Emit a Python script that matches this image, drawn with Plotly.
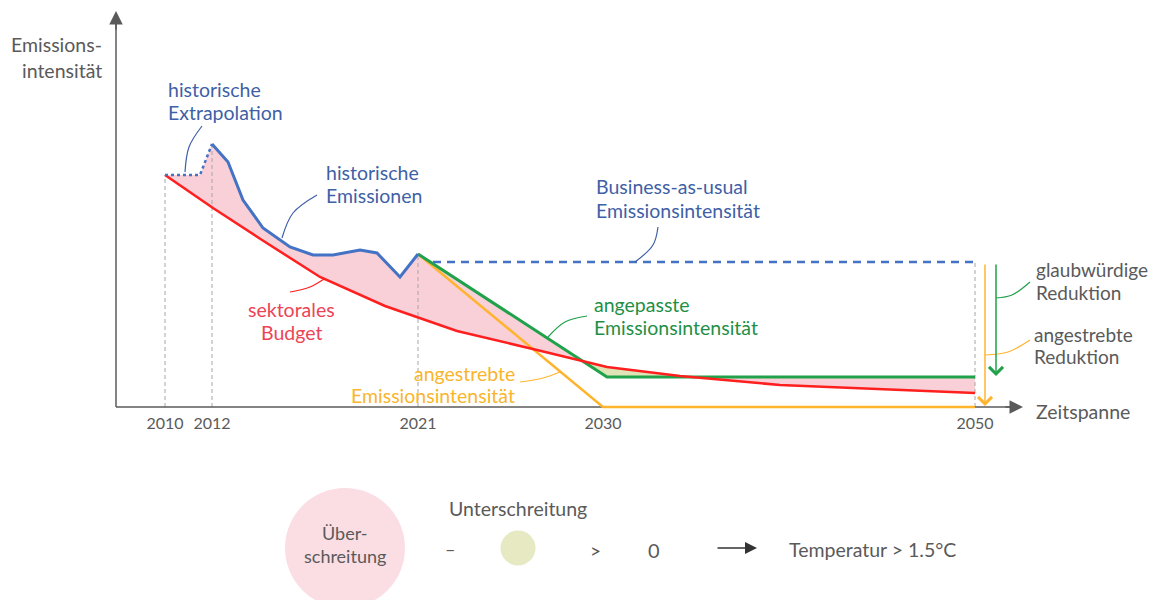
import numpy as np
import plotly.graph_objects as go

# ---------------- data (schematic units: x = time position, y = intensity) ----------------
tick_pos = [165, 212, 418, 603, 975]
tick_years = ["2010", "2012", "2021", "2030", "2050"]

extrap_x = [165, 200, 212]
extrap_y = [232, 232, 263]
hist_x = [212, 228, 243, 263, 290, 313, 333, 360, 377, 400, 418]
hist_y = [263, 245, 207, 179, 160, 152, 152, 157, 154, 130, 153]
budget_x = [165, 213, 262, 320, 385, 457, 537, 607, 680, 780, 975]
budget_y = [232, 199, 167, 130, 101, 76, 57, 40, 31, 22, 14]
adjusted_x = [418, 607, 975]
adjusted_y = [153, 30, 30]
target_x = [418, 603, 975]
target_y = [153, 0, 0]
bau_x = [433, 975]
bau_y = [145, 145]

guide_x = [165, 212, 418, 975]
guide_top = [232, 263, 153, 145]

# ---------------- styles ----------------
FONT = "Lato"
GRAY = "#5a5a5a"
BLUE = "#4472C4"
BLUE_T = "#3F5FA6"
RED = "#FF1F1F"
RED_T = "#EC4455"
GREEN = "#1FA24A"
GREEN_T = "#1F8F46"
ORANGE = "#FFB42E"
ORANGE_T = "#F9B52C"
PINK = "#F9D0D7"
OLIVE = "#DFE4B6"

# page offset (browser body margin) handled through the axis ranges
OFF = 8
W, H = 1157 - 2 * OFF, 608 - 2 * OFF
BASE = 407  # pixel row of the time axis in the reference


def Y(py):
    return BASE - py


fig = go.Figure()

# ---------------- fills between upper path and budget ----------------
upper_x = extrap_x + hist_x[1:] + adjusted_x[1:]
upper_y = extrap_y + hist_y[1:] + adjusted_y[1:]
grid = np.union1d(np.linspace(165, 975, 1621), np.array(upper_x + budget_x, dtype=float))
u = np.interp(grid, upper_x, upper_y)
r = np.interp(grid, budget_x, budget_y)
over = np.maximum(u, r)
under = np.minimum(u, r)

for top, col in [(over, PINK), (under, OLIVE)]:
    fig.add_trace(go.Scatter(x=grid, y=r, mode="lines", line=dict(width=0, color=col),
                             hoverinfo="skip", showlegend=False))
    fig.add_trace(go.Scatter(x=grid, y=top, mode="lines", line=dict(width=0, color=col),
                             fill="tonexty", fillcolor=col, hoverinfo="skip", showlegend=False))

# ---------------- guide lines ----------------
gx, gy = [], []
for x, t in zip(guide_x, guide_top):
    gx += [x, x, None]
    gy += [0, t, None]
fig.add_trace(go.Scatter(x=gx, y=gy, mode="lines", line=dict(color="#a6a6a6", width=1, dash="4px,3px"),
                         hoverinfo="skip", showlegend=False))

# ---------------- axes lines ----------------
fig.add_trace(go.Scatter(x=[116, 1010], y=[0, 0], mode="lines", line=dict(color=GRAY, width=1.5),
                         hoverinfo="skip", showlegend=False))
fig.add_trace(go.Scatter(x=[116, 116], y=[0, 385], mode="lines", line=dict(color=GRAY, width=1.5),
                         hoverinfo="skip", showlegend=False))

# ---------------- series lines ----------------
fig.add_trace(go.Scatter(x=target_x, y=target_y, mode="lines", line=dict(color=ORANGE, width=2.5),
                         showlegend=False))
fig.add_trace(go.Scatter(x=adjusted_x, y=adjusted_y, mode="lines", line=dict(color=GREEN, width=3),
                         showlegend=False))
fig.add_trace(go.Scatter(x=budget_x, y=budget_y, mode="lines", line=dict(color=RED, width=2.5),
                         showlegend=False))
fig.add_trace(go.Scatter(x=extrap_x, y=extrap_y, mode="lines", line=dict(color=BLUE, width=2.5, dash="dot"),
                         showlegend=False))
fig.add_trace(go.Scatter(x=hist_x, y=hist_y, mode="lines", line=dict(color=BLUE, width=3),
                         showlegend=False))
fig.add_trace(go.Scatter(x=bau_x, y=bau_y, mode="lines", line=dict(color=BLUE, width=2.5, dash="8px,6px"),
                         showlegend=False))

# ---------------- callout leader lines ----------------
callouts = [
    ([202, 189, 185], [281, 260, 235], BLUE_T),
    ([317, 293, 282], [212, 194, 169], BLUE_T),
    ([658, 653, 635], [180, 162, 145], BLUE_T),
    ([290, 310, 324], [115, 120, 128], RED),
    ([587, 565, 548], [91, 85, 70], GREEN),
    ([520, 543, 560], [25, 29, 35], ORANGE),
    ([1030, 1012, 996], [125, 112, 109], GREEN),
    ([1030, 1008, 985], [67, 55, 52], ORANGE),
]
for cx, cy, col in callouts:
    fig.add_trace(go.Scatter(x=cx, y=cy, mode="lines", line=dict(color=col, width=1.2, shape="spline"),
                             hoverinfo="skip", showlegend=False))

# ---------------- legend glyphs ----------------
legend_x = [345, 518]
legend_y = [Y(548), Y(548)]
fig.add_trace(go.Scatter(x=legend_x, y=legend_y, mode="markers",
                         marker=dict(size=[120, 35], color=[PINK, "#DCE0A6"], line=dict(width=0)),
                         hoverinfo="skip", showlegend=False, cliponaxis=False))

annotations = []


def txt(x, py, s, color, size=19.5, xanchor="left"):
    annotations.append(dict(x=x, y=Y(py), xref="x", yref="y", text=s, showarrow=False,
                            font=dict(family=FONT, size=size, color=color),
                            xanchor=xanchor, yanchor="middle"))


def label(x, rows, lines, color, size=19.5, xanchor="left"):
    for py, s in zip(rows, lines):
        txt(x, py, s, color, size, xanchor)


label(104, [44, 70], ["Emissions-", "intensität"], GRAY, 19.5, "right")
label(166, [89, 112], ["historische", "Extrapolation"], BLUE_T)
label(324, [172, 195], ["historische", "Emissionen"], BLUE_T)
label(594, [186, 210], ["Business-as-usual", "Emissionsintensität"], BLUE_T)
label(291, [309, 332], ["sektorales", "Budget"], RED_T, 19.5, "center")
label(592, [304, 327], ["angepasste", "Emissionsintensität"], GREEN_T)
label(517, [373, 395], ["angestrebte", "Emissionsintensität"], ORANGE_T, 19.5, "right")
label(1034, [269, 292], ["glaubwürdige", "Reduktion"], GRAY, 19)
label(1032, [334, 356], ["angestrebte", "Reduktion"], GRAY, 19)
txt(1034, 411, "Zeitspanne", GRAY, 19.5)

# legend texts
label(345, [533, 556], ["Über-", "schreitung"], GRAY, 18, "center")
txt(450, 549, "–", GRAY, 18, "center")
txt(518, 508, "Unterschreitung", GRAY, 19.5, "center")
txt(595, 550, ">", GRAY, 19, "center")
txt(654, 550, "0", GRAY, 20, "center")
txt(787, 549, "Temperatur &gt; 1.5°C", GRAY, 19.5)


# arrows (axis heads, reduction arrows, legend arrow)
def arrow(x0, y0, x1, y1, color, width, head, size):
    annotations.append(dict(x=x1, y=y1, ax=x0, ay=y0, xref="x", yref="y", axref="x", ayref="y",
                            text="", showarrow=True, arrowhead=head, arrowsize=size,
                            arrowwidth=width, arrowcolor=color, standoff=0, startstandoff=0))


arrow(1004, 0, 1023, 0, GRAY, 1.5, 2, 1.8)
arrow(116, 376, 116, 396, GRAY, 1.5, 2, 1.8)
arrow(985, bau_y[0] - 1, 985, target_y[-1] + 1, ORANGE, 1.5, 4, 1.8)
arrow(996, bau_y[0] - 1, 996, adjusted_y[-1] + 1, GREEN, 1.5, 4, 1.8)
arrow(716, Y(548), 757, Y(548), "#333333", 1.5, 2, 1.6)

fig.update_layout(
    width=W, height=H,
    margin=dict(l=0, r=0, t=0, b=0),
    paper_bgcolor="white", plot_bgcolor="white",
    annotations=annotations,
    xaxis=dict(range=[OFF, OFF + W], showgrid=False, zeroline=False, showline=False,
               tickvals=tick_pos, ticktext=tick_years, ticks="", anchor="free",
               position=(H - (BASE - OFF)) / H,
               tickfont=dict(family=FONT, size=16, color=GRAY), ticklabelstandoff=5, fixedrange=True),
    yaxis=dict(range=[Y(OFF + H), Y(OFF)], visible=False, fixedrange=True),
    showlegend=False,
)

fig.write_html("out.html")
